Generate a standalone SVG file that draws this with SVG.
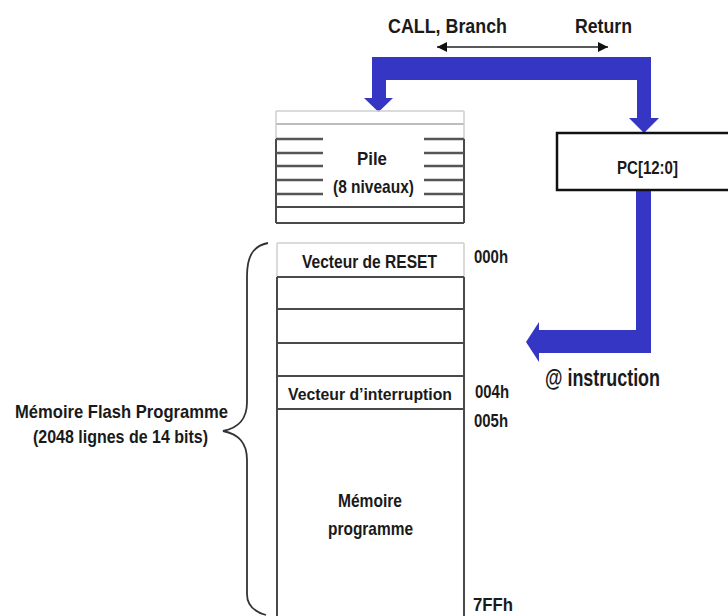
<svg xmlns="http://www.w3.org/2000/svg" width="728" height="616" viewBox="0 0 728 616">
<defs>
<style>
text{font-family:"Liberation Sans Narrow","Liberation Sans",Arial,sans-serif;font-weight:bold;fill:#1a1a1a;}
.t17{font-size:18.5px;}
.t19{font-size:21px;}
.t21{font-size:23px;}
.blue{fill:#3636c4;}
.dk{stroke:#4a4a4a;stroke-width:2;fill:none;}
.lt{stroke:#cfcfcf;stroke-width:1.5;fill:none;}
.md{stroke:#bdbdbd;stroke-width:2;fill:none;}
</style>
<marker id="ah" viewBox="0 0 10 10" refX="10" refY="5" markerWidth="10" markerHeight="10" markerUnits="userSpaceOnUse" orient="auto-start-reverse">
<path d="M0,0 L10,5 L0,10 z" fill="#111"/>
</marker>
</defs>

<g id="connectors">
<line x1="437" y1="47" x2="608" y2="47" stroke="#222" stroke-width="1.5" marker-start="url(#ah)" marker-end="url(#ah)"/>
<polygon class="blue" points="372,57 651,57 651,118 659,118 644,133 629,118 637,118 637,80 386,80 386,98 393,98 378.5,112 364,98 372,98"/>
<polygon class="blue" points="636,190 651,190 651,353 539,353 539,362 526,342 539,322 539,330 636,330"/>
</g>

<g id="labels-top">
<text class="t19" x="388" y="33" textLength="119" lengthAdjust="spacingAndGlyphs">CALL, Branch</text>
<text class="t19" x="575" y="33" textLength="57" lengthAdjust="spacingAndGlyphs">Return</text>
</g>

<g id="pile">
<line class="lt" x1="276" y1="111" x2="464" y2="111"/>
<line class="md" x1="276" y1="124" x2="464" y2="124"/>
<line class="lt" x1="276" y1="111" x2="276" y2="139"/>
<line class="lt" x1="464" y1="111" x2="464" y2="139"/>
<line class="dk" x1="276" y1="139" x2="276" y2="223"/>
<line class="dk" x1="464" y1="139" x2="464" y2="223"/>
<g stroke="#555" stroke-width="2.5">
<line x1="276" y1="139" x2="323" y2="139"/><line x1="424" y1="139" x2="464" y2="139"/>
<line x1="276" y1="153" x2="323" y2="153"/><line x1="424" y1="153" x2="464" y2="153"/>
<line x1="276" y1="166" x2="323" y2="166"/><line x1="424" y1="166" x2="464" y2="166"/>
<line x1="276" y1="180" x2="323" y2="180"/><line x1="424" y1="180" x2="464" y2="180"/>
<line x1="276" y1="194" x2="323" y2="194"/><line x1="424" y1="194" x2="464" y2="194"/>
</g>
<line class="dk" x1="276" y1="207" x2="464" y2="207"/>
<line class="dk" x1="276" y1="223" x2="464" y2="223"/>
<text class="t17" x="372" y="165" text-anchor="middle" textLength="30" lengthAdjust="spacingAndGlyphs">Pile</text>
<text class="t17" x="373.5" y="193" text-anchor="middle" textLength="81" lengthAdjust="spacingAndGlyphs">(8 niveaux)</text>
</g>

<g id="pc">
<rect x="557" y="133" width="190" height="57" fill="#fff" stroke="#111" stroke-width="2.5"/>
<text class="t17" x="647.5" y="174" text-anchor="middle" textLength="61" lengthAdjust="spacingAndGlyphs">PC[12:0]</text>
</g>

<g id="instruction-label">
<text class="t21" x="545" y="386" textLength="115" lengthAdjust="spacingAndGlyphs">@ instruction</text>
</g>

<g id="memoire">
<line class="lt" x1="277" y1="243" x2="464" y2="243"/>
<line class="lt" x1="277" y1="243" x2="277" y2="277"/>
<line class="lt" x1="464" y1="243" x2="464" y2="277"/>
<line class="dk" x1="277" y1="277" x2="277" y2="620"/>
<line class="dk" x1="464" y1="277" x2="464" y2="620"/>
<line class="dk" x1="277" y1="277" x2="464" y2="277"/>
<line class="dk" x1="277" y1="309" x2="464" y2="309"/>
<line class="dk" x1="277" y1="343" x2="464" y2="343"/>
<line class="dk" x1="277" y1="376" x2="464" y2="376"/>
<line class="dk" x1="277" y1="409" x2="464" y2="409"/>
<text class="t17" x="369.5" y="268" text-anchor="middle" textLength="135" lengthAdjust="spacingAndGlyphs">Vecteur de RESET</text>
<text x="370" y="400" text-anchor="middle" font-size="16" textLength="164" lengthAdjust="spacingAndGlyphs">Vecteur d’interruption</text>
<text class="t17" x="370" y="507" text-anchor="middle" textLength="64" lengthAdjust="spacingAndGlyphs">Mémoire</text>
<text class="t17" x="370.5" y="535" text-anchor="middle" textLength="85" lengthAdjust="spacingAndGlyphs">programme</text>
<text class="t17" x="474" y="263" textLength="34" lengthAdjust="spacingAndGlyphs">000h</text>
<text class="t17" x="475" y="398" textLength="34" lengthAdjust="spacingAndGlyphs">004h</text>
<text class="t17" x="474" y="427" textLength="34" lengthAdjust="spacingAndGlyphs">005h</text>
<text class="t17" x="473" y="611" textLength="40" lengthAdjust="spacingAndGlyphs">7FFh</text>
</g>

<g id="accolade">
<path d="M268,243 C252,246 247,258 247,276 L247,402 C247,420 238,428 223,431 C238,434 247,442 247,460 L247,594 C247,606 255,612 266,615" fill="none" stroke="#333" stroke-width="1.8"/>
<text class="t17" x="121.5" y="418" text-anchor="middle" textLength="213" lengthAdjust="spacingAndGlyphs">Mémoire Flash Programme</text>
<text class="t17" x="120.5" y="443" text-anchor="middle" textLength="175" lengthAdjust="spacingAndGlyphs">(2048 lignes de 14 bits)</text>
</g>
</svg>
